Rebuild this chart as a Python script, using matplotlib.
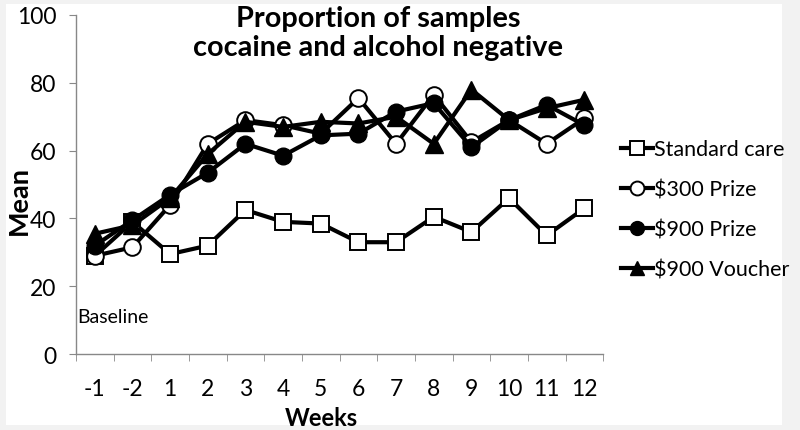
import matplotlib
matplotlib.use("Agg")
import matplotlib.pyplot as plt
from matplotlib.patches import Rectangle

plt.rcParams['font.family'] = ['Lato', 'DejaVu Sans']

categories = ["-1", "-2", "1", "2", "3", "4", "5", "6", "7", "8", "9", "10", "11", "12"]
standard_care = [29, 39, 29.5, 32, 42.5, 39, 38.5, 33, 33, 40.5, 36, 46, 35, 43]
prize_300 = [29, 31.5, 44, 62, 69, 67.5, 65, 75.5, 62, 76.5, 62.5, 69, 62, 69.5]
prize_900 = [32, 39.5, 47, 53.5, 62, 58.5, 64.5, 65, 71.5, 74, 61, 69, 73.5, 67.5]
voucher_900 = [35.5, 38, 46, 59, 68.5, 67, 68.5, 68, 70, 62, 78, 69, 72.5, 75]
y_ticks = [0, 20, 40, 60, 80, 100]

fig = plt.figure(figsize=(8, 4.31), dpi=100)
fig.patch.set_facecolor('#f2f2f2')
fig.patches.append(Rectangle((0.008, 0.012), 0.97, 0.976, transform=fig.transFigure,
                             facecolor='white', edgecolor='none', zorder=-10))
ax = fig.add_axes([0.095, 0.176, 0.659, 0.787])
ax.set_facecolor('none')

x = list(range(len(categories)))
lw = 3.0
ms = 11.5
ax.plot(x, standard_care, color='black', lw=lw, marker='s', ms=ms, mfc='white', mec='black', mew=1.4, label='Standard care')
ax.plot(x, prize_300, color='black', lw=lw, marker='o', ms=ms + 0.5, mfc='white', mec='black', mew=1.4, label='$300 Prize')
ax.plot(x, prize_900, color='black', lw=lw, marker='o', ms=ms + 0.5, mfc='black', mec='black', label='$900 Prize')
ax.plot(x, voucher_900, color='black', lw=lw, marker='^', ms=ms + 1, mfc='black', mec='black', label='$900 Voucher')

ax.set_xlim(-0.5, len(categories) - 0.5)
ax.set_ylim(0, 100)
ax.set_yticks(y_ticks)
ax.set_xticks(x)
ax.set_xticklabels(categories)
ax.set_xticks([i - 0.5 for i in range(len(categories) + 1)], minor=True)
ax.tick_params(axis='x', which='major', length=0, labelsize=16.5, pad=17)
ax.tick_params(axis='x', which='minor', length=5, color='#888888', direction='out')
ax.tick_params(axis='y', length=5, color='#888888', labelsize=16.5, pad=9)
for s in ['top', 'right']:
    ax.spines[s].set_visible(False)
for s in ['left', 'bottom']:
    ax.spines[s].set_color('#888888')
    ax.spines[s].set_linewidth(1.0)

fig.text(0.024, 0.535, 'Mean', rotation=90, fontsize=19.5, fontweight='bold', ha='center', va='center')
fig.text(0.402, 0.03, 'Weeks', fontsize=17, fontweight='bold', ha='center', va='center')
fig.text(0.473, 0.985, 'Proportion of samples\ncocaine and alcohol negative',
         ha='center', va='top', fontsize=20.8, fontweight='bold', linespacing=1.12)
ax.text(-0.47, 11, 'Baseline', fontsize=14, ha='left', va='center')

leg = fig.legend(loc='upper left', bbox_to_anchor=(0.766, 0.695), frameon=False, fontsize=15.5,
                 handlelength=1.45, handletextpad=0.08, labelspacing=0.93, borderaxespad=0)
for h in leg.legend_handles:
    h.set_markersize(10)

fig.savefig('out.png', dpi=100, facecolor=fig.get_facecolor())
